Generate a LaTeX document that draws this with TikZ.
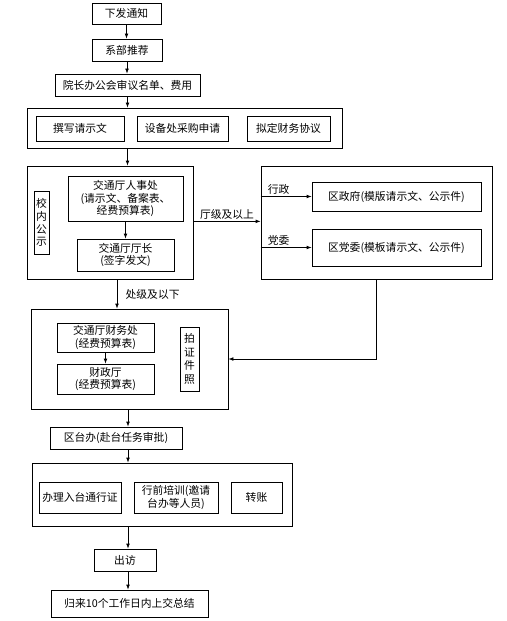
\documentclass[tikz,border=0pt]{standalone}
\usepackage{fontspec}
\setmainfont{Noto Sans CJK SC}
\usetikzlibrary{calc,arrows.meta,positioning}

\begin{document}
\begin{tikzpicture}[x=0.03cm,y=-0.03cm,{place/.style={rectangle,draw=black,line width=0.6pt,inner sep=0.5mm,align=center,font=\fontsize{9.2}{10.6}\selectfont}},{frame/.style={rectangle,draw=black,line width=0.6pt,inner sep=0}},{linest/.style={color=black,line width=0.6pt}},{arr/.style={linest,-{Latex[length=1.5mm,width=1.1mm]}}},{lab/.style={font=\fontsize{9.2}{10.6}\selectfont,inner sep=0.5mm}}]
	\useasboundingbox (0,0) rectangle (506,621);
	%%outer frames
	\node [frame,minimum width=315*0.03cm,minimum height=40*0.03cm] (g1) at (184.5,128) {};
	\node [frame,minimum width=166*0.03cm,minimum height=113*0.03cm] (g2) at (110,222.5) {};
	\node [frame,minimum width=231*0.03cm,minimum height=113*0.03cm] (g3) at (376.5,222.5) {};
	\node [frame,minimum width=197*0.03cm,minimum height=100*0.03cm] (g4) at (129.5,359) {};
	\node [frame,minimum width=260*0.03cm,minimum height=63*0.03cm] (g5) at (162,494.5) {};
	%%single steps
	\node [place,minimum width=69*0.03cm,minimum height=21*0.03cm] (tz) at (126.5,13.5) {下发通知};
	\node [place,minimum width=70*0.03cm,minimum height=22*0.03cm] (xb) at (127,50) {系部推荐};
	\node [place,minimum width=145*0.03cm,minimum height=22*0.03cm] (yz) at (127.5,85) {院长办公会审议名单、费用};
	%%frame 1
	\node [place,minimum width=88*0.03cm,minimum height=25*0.03cm] (zx) at (80,128.5) {撰写请示文};
	\node [place,minimum width=91*0.03cm,minimum height=25*0.03cm] (sb) at (182.5,128.5) {设备处采购申请};
	\node [place,minimum width=83*0.03cm,minimum height=25*0.03cm] (nd) at (288.5,128.5) {拟定财务协议};
	%%frame 2
	\node [place,minimum width=115*0.03cm,minimum height=45*0.03cm] (rs) at (125.5,198.5) {交通厅人事处\\(请示文、备案表、\\经费预算表)};
	\node [place,minimum width=15*0.03cm,minimum height=63*0.03cm,inner sep=0,font=\fontsize{9.2}{11}\selectfont] (gs) at (41.5,222.5) {校\\内\\公\\示};
	\node [place,minimum width=97*0.03cm,minimum height=32*0.03cm] (tc) at (125.5,255) {交通厅厅长\\(签字发文)};
	%%frame 3
	\node [place,minimum width=169*0.03cm,minimum height=29*0.03cm] (qz) at (396.5,196.5) {区政府(模版请示文、公示件)};
	\node [place,minimum width=169*0.03cm,minimum height=37*0.03cm] (qd) at (396.5,247.5) {区党委(模板请示文、公示件)};
	%%frame 4
	\node [place,minimum width=97*0.03cm,minimum height=29*0.03cm] (cw) at (105.5,337.5) {交通厅财务处\\(经费预算表)};
	\node [place,minimum width=97*0.03cm,minimum height=30*0.03cm] (cz) at (105.5,379) {财政厅\\(经费预算表)};
	\node [place,minimum width=19*0.03cm,minimum height=64*0.03cm,inner sep=0,font=\fontsize{9.2}{11.5}\selectfont] (pz) at (189.5,359) {拍\\证\\件\\照};
	\node [place,minimum width=132*0.03cm,minimum height=22*0.03cm] (tb) at (116,438) {区台办(赴台任务审批)};
	%%frame 5
	\node [place,minimum width=82*0.03cm,minimum height=31*0.03cm] (bl) at (80,497.5) {办理入台通行证};
	\node [place,minimum width=84*0.03cm,minimum height=31*0.03cm] (px) at (176,497.5) {行前培训(邀请\\台办等人员)};
	\node [place,minimum width=51*0.03cm,minimum height=31*0.03cm] (zz) at (256.5,497.5) {转账};
	\node [place,minimum width=62*0.03cm,minimum height=22*0.03cm] (cf) at (125,560) {出访};
	\node [place,minimum width=157*0.03cm,minimum height=27*0.03cm] (gl) at (129.5,603.5) {归来10个工作日内上交总结};
	%%arrows
	\draw [arr] (tz.south) -- (tz.south |- xb.north);
	\draw [arr] (xb.south) -- (xb.south |- yz.north);
	\draw [arr] (yz.south) -- (yz.south |- g1.north);
	\draw [arr] (yz.south |- g1.south) -- (yz.south |- g2.north);
	\draw [arr] (rs.south) -- (tc.north);
	\draw [arr] ([xshift=0.21cm]g2.south) -- ([xshift=0.21cm]g2.south |- g4.north) node [lab,midway,right=0.2cm] {处级及以下};
	\draw [arr] (g2.east |- rs.south) -- (g3.west |- rs.south) node [lab,midway,above] {厅级及以上};
	\draw [arr] (g3.west |- qz) -- (qz.west) node [lab,pos=0.1,above right] {行政};
	\draw [arr] (g3.west |- qd) -- (qd.west) node [lab,pos=0.1,above right] {党委};
	\draw [arr] (g3.south) -- (g3.south |- pz) -- (g4.east |- pz);
	\draw [arr] (cw.south) -- (cz.north);
	\draw [arr] (tb.south |- g4.south) ++(12*0.03cm,0) coordinate (g4s) -- (g4s |- tb.north);
	\draw [arr] (g4s |- tb.south) -- (g4s |- g5.north);
	\draw [arr] (g4s |- g5.south) -- (g4s |- cf.north);
	\draw [arr] (g4s |- cf.south) -- (g4s |- gl.north);
\end{tikzpicture}
\end{document}
